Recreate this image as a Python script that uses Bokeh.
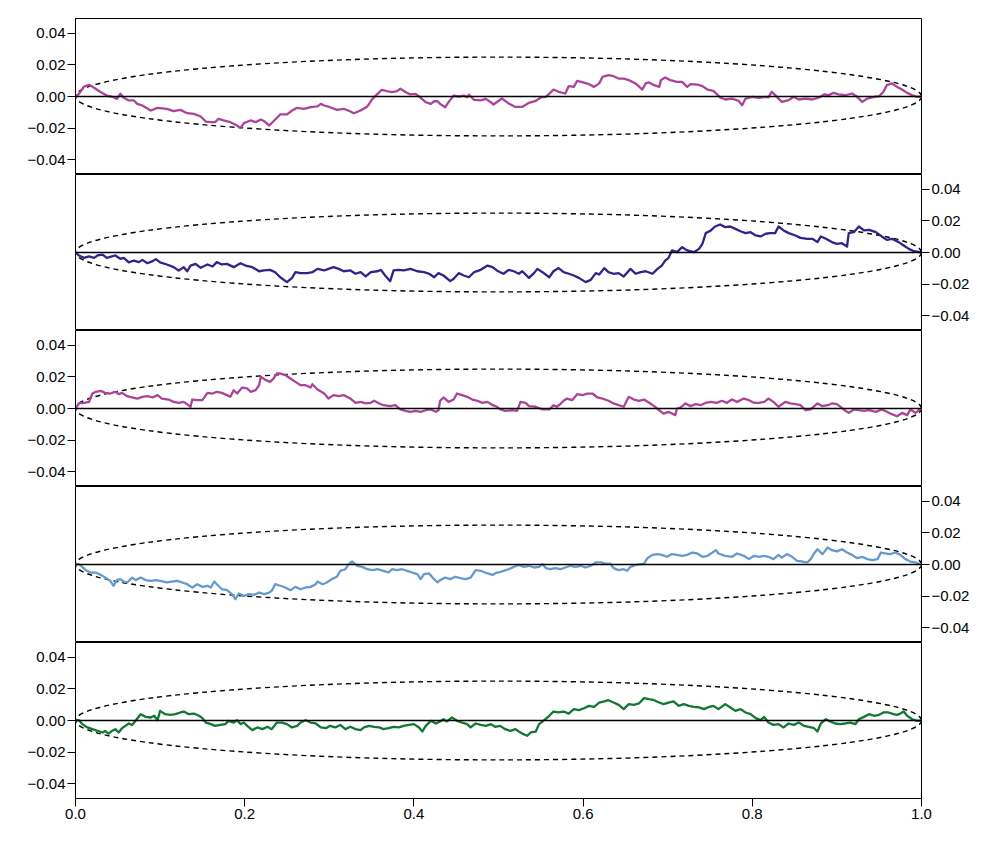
from bokeh.plotting import figure
from bokeh.layouts import column
from bokeh.models import Range1d, FixedTicker, CustomJSTickFormatter, Span
from bokeh.embed import file_html
from bokeh.resources import INLINE

# ---------------- data ----------------
t1 = [0, .004, .010, .016, .022, .030, .037, .045, .049, .053, .057, .063, .069, .073, .079, .089, .097, .108, .116, .124,
      .132, .140, .148, .154, .160, .165, .169, .175, .183, .191, .195, .199, .207, .213, .219, .223, .229, .234, .242, .250,
      .256, .262, .270, .278, .286, .290, .294, .301, .309, .317, .325, .329, .337, .345, .351, .357, .362, .368, .374, .380,
      .384, .390, .396, .402, .408, .414, .420, .424, .428, .431, .437, .441, .447, .453, .459, .463, .465, .471, .479, .485,
      .491, .494,
      .504, .512, .520, .528, .536, .544, .550, .556, .561, .565, .571, .579, .583, .589, .593, .599, .607, .613, .619, .623,
      .630, .636, .642, .648, .654, .662, .670, .674, .678, .684, .690, .692, .697, .703, .711, .717, .723, .727, .735, .741,
      .747, .754, .762, .768, .776, .784, .788, .792, .800, .808, .816, .819, .823, .829, .835, .843, .849, .855, .863, .871,
      .879, .885, .890, .896, .902, .910, .918, .924, .930, .936, .944, .950, .955, .959, .965, .971, .977, .983, .989, .995,
      1.0]
y1 = [0.0, 0.0017, 0.0063, 0.0074, 0.0055, 0.0027, 0.0006, -0.0004, -0.0015, 0.0017, -0.0008, -0.0025, -0.0025, -0.0047,
      -0.0057, -0.0089, -0.0072, -0.0078, -0.0093, -0.0085, -0.0106, -0.0110, -0.0127, -0.0159, -0.0163, -0.0163, -0.0142,
      -0.0152, -0.0163, -0.0184, -0.0199, -0.0169, -0.0152, -0.0163, -0.0146, -0.0157, -0.0184, -0.0157, -0.0114, -0.0114,
      -0.0089, -0.0072, -0.0078, -0.0068, -0.0063, -0.0047, -0.0057, -0.0068, -0.0085, -0.0078, -0.0095, -0.0106, -0.0089,
      -0.0063, -0.0015, 0.0017, 0.0042, 0.0034, 0.0028, 0.0034, 0.0049, 0.0028, 0.0013, 0.0017, -0.0008, -0.0036, -0.0047,
      -0.0030, -0.0030, -0.0047, -0.0068, -0.0036, 0.0006, 0.0000, 0.0006, -0.0004, 0.0011, -0.0021, -0.0025, -0.0015,
      -0.0036, -0.0051,
      -0.0013, -0.0044, -0.0066, -0.0066, -0.0040, -0.0028, -0.0006, -0.0002, 0.0023, 0.0044, 0.0030, 0.0019, 0.0066,
      0.0061, 0.0099, 0.0091, 0.0078, 0.0061, 0.0083, 0.0125, 0.0135, 0.0129, 0.0114, 0.0114, 0.0104, 0.0083, 0.0044,
      0.0083, 0.0089, 0.0072, 0.0061, 0.0104, 0.0121, 0.0104, 0.0093, 0.0093, 0.0061, 0.0078, 0.0076, 0.0066, 0.0044,
      0.0036, -0.0006, -0.0019, -0.0013, -0.0028, -0.0055, -0.0013, -0.0002, -0.0008, -0.0002, -0.0006, 0.0030, -0.0002,
      -0.0034, -0.0023, -0.0002, -0.0019, -0.0013, -0.0019, -0.0006, 0.0013, 0.0008, 0.0023, 0.0013, 0.0008, 0.0019,
      -0.0002, -0.0034, -0.0013, -0.0002, 0.0002, 0.0030, 0.0072, 0.0083, 0.0061, 0.0044, 0.0023, 0.0008, -0.0002, 0.0]

t2 = [0, .004, .010, .016, .022, .026, .032, .037, .043, .047, .053, .057, .063, .069, .075, .079, .085, .091, .095, .100,
      .108, .116, .122, .128, .132, .136, .142, .148, .156, .162, .167, .173, .179, .187, .195, .201, .209, .217, .223, .230,
      .236, .242, .250, .256, .260, .266, .274, .280, .286, .294, .299, .305, .311, .317, .325, .331, .337, .343, .349, .357,
      .361, .366, .372, .376, .382, .388, .396, .404, .412, .418, .424, .429, .435, .443, .447, .453, .459, .465, .471, .479,
      .487, .493, .498,
      .502, .506, .512, .518, .524, .528, .536, .542, .546, .552, .560, .565, .571, .577, .583, .589, .595, .603, .609, .615,
      .619, .625, .630, .636, .642, .648, .656, .662, .668, .674, .682, .688, .693, .697, .701, .705, .711, .717, .723, .731,
      .737, .741, .745, .751, .756, .762, .768, .774, .780, .786, .792, .798, .804, .810, .816, .821, .827, .831, .837, .843,
      .851, .857, .865, .871, .877, .881, .887, .894, .900, .906, .912, .914, .920, .926, .932, .938, .946, .953, .959, .965,
      .973, .979, .985, .991, 1.0]
y2 = [0.0, -0.0019, -0.0034, -0.0025, -0.0034, -0.0019, -0.0013, -0.0034, -0.0025, -0.0019, -0.0040, -0.0034, -0.0063,
      -0.0051, -0.0061, -0.0047, -0.0068, -0.0055, -0.0042, -0.0063, -0.0076, -0.0093, -0.0114, -0.0093, -0.0119, -0.0083,
      -0.0072, -0.0097, -0.0076, -0.0089, -0.0061, -0.0076, -0.0072, -0.0093, -0.0068, -0.0083, -0.0093, -0.0119, -0.0114,
      -0.0110, -0.0125, -0.0157, -0.0188, -0.0161, -0.0125, -0.0131, -0.0131, -0.0125, -0.0104, -0.0114, -0.0104, -0.0093,
      -0.0104, -0.0119, -0.0114, -0.0135, -0.0125, -0.0152, -0.0125, -0.0119, -0.0110, -0.0146, -0.0182, -0.0114, -0.0110,
      -0.0114, -0.0104, -0.0119, -0.0125, -0.0135, -0.0157, -0.0131, -0.0146, -0.0182, -0.0167, -0.0131, -0.0146, -0.0157,
      -0.0125, -0.0110, -0.0083, -0.0093, -0.0114,
      -0.0125, -0.0135, -0.0110, -0.0119, -0.0135, -0.0119, -0.0161, -0.0131, -0.0104, -0.0125, -0.0157, -0.0119, -0.0099,
      -0.0125, -0.0135, -0.0146, -0.0161, -0.0188, -0.0174, -0.0131, -0.0140, -0.0099, -0.0125, -0.0135, -0.0131, -0.0152,
      -0.0104, -0.0135, -0.0125, -0.0119, -0.0135, -0.0104, -0.0083, -0.0051, -0.0034, 0.0013, 0.0002, 0.0034, 0.0013,
      0.0002, 0.0023, 0.0055, 0.0123, 0.0140, 0.0165, 0.0178, 0.0161, 0.0165, 0.0150, 0.0135, 0.0123, 0.0129, 0.0108,
      0.0102, 0.0119, 0.0123, 0.0123, 0.0165, 0.0140, 0.0123, 0.0108, 0.0093, 0.0087, 0.0087, 0.0066, 0.0102, 0.0087,
      0.0066, 0.0055, 0.0059, 0.0038, 0.0123, 0.0129, 0.0165, 0.0140, 0.0144, 0.0129, 0.0102, 0.0080, 0.0087, 0.0066,
      0.0044, 0.0023, 0.0008, 0.0]

t3 = [0, .004, .010, .016, .020, .024, .030, .035, .041, .047, .051, .055, .061, .067, .073, .079, .085, .091, .097, .102,
      .110, .116, .122, .128, .136, .138, .144, .150, .156, .162, .167, .173, .179, .183, .187, .191, .197, .203, .207, .213,
      .217, .219, .225, .230, .234, .238, .242, .248, .254, .260, .266, .272, .278, .280, .286, .294, .299, .305, .311, .317,
      .325, .331, .337, .343, .349, .353, .359, .364, .372, .378, .384, .390, .396, .402, .408, .414, .420, .426, .429, .431,
      .435, .441, .447, .451, .457, .463, .469, .475, .481, .487, .493, .498,
      .502, .508, .516, .522, .526, .532, .536, .544, .552, .560, .565, .569, .573, .577, .581, .587, .593, .599, .605, .611,
      .617, .623, .630, .636, .642, .648, .654, .660, .666, .672, .678, .684, .690, .695, .701, .709, .711, .715, .721, .727,
      .733, .739, .745, .751, .758, .764, .770, .776, .782, .790, .796, .802, .808, .814, .819, .825, .831, .839, .845, .851,
      .857, .863, .869, .877, .883, .889, .894, .900, .908, .914, .920, .926, .932, .938, .946, .953, .959, .965, .971, .977,
      .983, .987, .993, .997, 1.0]
y3 = [0.0, 0.0032, 0.0036, 0.0042, 0.0095, 0.0106, 0.0112, 0.0099, 0.0095, 0.0106, 0.0091, 0.0099, 0.0078, 0.0070, 0.0063,
      0.0074, 0.0078, 0.0070, 0.0085, 0.0063, 0.0057, 0.0042, 0.0036, 0.0042, 0.0011, 0.0057, 0.0053, 0.0053, 0.0099, 0.0095,
      0.0106, 0.0099, 0.0085, 0.0074, 0.0116, 0.0095, 0.0133, 0.0127, 0.0106, 0.0116, 0.0148, 0.0201, 0.0180, 0.0169, 0.0190,
      0.0222, 0.0222, 0.0212, 0.0190, 0.0169, 0.0148, 0.0148, 0.0133, 0.0154, 0.0121, 0.0095, 0.0063, 0.0085, 0.0078, 0.0085,
      0.0063, 0.0036, 0.0042, 0.0032, 0.0036, 0.0049, 0.0032, 0.0021, 0.0015, 0.0021, -0.0006, -0.0015, -0.0021, -0.0015,
      -0.0021, -0.0011, -0.0006, -0.0021, -0.0011, 0.0049, 0.0070, 0.0042, 0.0057, 0.0095, 0.0085, 0.0074, 0.0057, 0.0049,
      0.0036, 0.0042, 0.0021, 0.0011,
      -0.0006, -0.0015, -0.0011, -0.0015, 0.0042, 0.0036, 0.0015, 0.0011, -0.0006, -0.0006, 0.0021, 0.0011, 0.0028, 0.0049,
      0.0063, 0.0053, 0.0091, 0.0085, 0.0095, 0.0095, 0.0070, 0.0063, 0.0049, 0.0032, 0.0021, 0.0011, 0.0074, 0.0057,
      0.0049, 0.0057, 0.0036, 0.0015, -0.0011, -0.0032, -0.0021, -0.0042, 0.0000, 0.0006, 0.0032, 0.0015, 0.0028, 0.0021,
      0.0036, 0.0042, 0.0036, 0.0049, 0.0036, 0.0057, 0.0042, 0.0063, 0.0053, 0.0036, 0.0036, 0.0042, 0.0063, 0.0042,
      0.0011, 0.0042, 0.0032, 0.0028, 0.0021, -0.0011, -0.0006, 0.0032, 0.0015, 0.0021, 0.0032, 0.0028, -0.0006, -0.0028,
      -0.0006, -0.0011, -0.0015, -0.0011, -0.0021, -0.0006, -0.0021, -0.0036, -0.0049, -0.0028, -0.0042, -0.0006, -0.0028,
      -0.0011, 0.0]

t4 = [0, .004, .008, .012, .018, .024, .030, .035, .041, .045, .049, .053, .057, .061, .067, .071, .077, .083, .089, .095,
      .100, .108, .114, .120, .126, .132, .138, .144, .150, .156, .160, .164, .167, .173, .179, .185, .189, .193, .199, .205,
      .211, .217, .223, .229, .232, .236, .242, .248, .254, .260, .266, .272, .278, .284, .286, .292, .297, .303, .309, .313,
      .319, .323, .327, .333, .339, .345, .351, .357, .364, .370, .374, .380, .386, .392, .398, .404, .408, .412, .418, .422,
      .428, .431, .437, .443, .449, .455, .461, .467, .473, .479, .487, .493, .498,
      .500, .506, .512, .518, .524, .530, .536, .542, .548, .552, .556, .561, .567, .573, .579, .585, .591, .597, .603, .609,
      .615, .621, .626, .632, .636, .642, .648, .652, .656, .662, .668, .672, .676, .682, .688, .693, .699, .705, .711, .717,
      .723, .729, .735, .741, .747, .753, .757, .760, .768, .776, .782, .790, .796, .802, .808, .814, .819, .825, .831, .835,
      .841, .847, .853, .859, .865, .869, .873, .877, .883, .889, .894, .900, .906, .912, .918, .924, .930, .936, .942, .948,
      .952, .957, .963, .969, .975, .981, .987, .993, 1.0]
y4 = [0.0, 0.0002, -0.0015, -0.0036, -0.0051, -0.0051, -0.0066, -0.0083, -0.0104, -0.0135, -0.0099, -0.0093, -0.0108,
      -0.0114, -0.0083, -0.0099, -0.0083, -0.0099, -0.0104, -0.0099, -0.0104, -0.0114, -0.0108, -0.0104, -0.0114, -0.0125,
      -0.0146, -0.0125, -0.0142, -0.0135, -0.0146, -0.0108, -0.0125, -0.0157, -0.0163, -0.0188, -0.0220, -0.0184, -0.0199,
      -0.0188, -0.0193, -0.0178, -0.0188, -0.0178, -0.0167, -0.0125, -0.0135, -0.0146, -0.0163, -0.0142, -0.0157, -0.0146,
      -0.0142, -0.0125, -0.0108, -0.0125, -0.0114, -0.0093, -0.0078, -0.0040, -0.0030, 0.0002, 0.0019, -0.0008, -0.0015,
      -0.0030, -0.0036, -0.0030, -0.0040, -0.0051, -0.0030, -0.0036, -0.0030, -0.0040, -0.0051, -0.0061, -0.0093, -0.0061,
      -0.0057, -0.0083, -0.0114, -0.0099, -0.0083, -0.0093, -0.0078, -0.0087, -0.0093, -0.0083, -0.0036, -0.0040, -0.0057,
      -0.0066, -0.0051,
      -0.0051, -0.0040, -0.0030, -0.0015, -0.0002, -0.0015, -0.0008, -0.0019, -0.0015, 0.0002, -0.0023, -0.0030, -0.0023,
      -0.0030, -0.0019, -0.0008, -0.0015, -0.0008, -0.0019, -0.0008, 0.0013, 0.0013, 0.0006, 0.0006, -0.0023, -0.0036,
      -0.0030, -0.0040, -0.0015, -0.0002, 0.0002, 0.0006, 0.0040, 0.0061, 0.0066, 0.0061, 0.0049, 0.0066, 0.0061, 0.0055,
      0.0061, 0.0076, 0.0070, 0.0049, 0.0055, 0.0076, 0.0091, 0.0070, 0.0055, 0.0049, 0.0070, 0.0055, 0.0034, 0.0055,
      0.0049, 0.0055, 0.0049, 0.0034, 0.0061, 0.0044, 0.0066, 0.0049, 0.0023, 0.0019, 0.0013, 0.0034, 0.0070, 0.0097,
      0.0066, 0.0108, 0.0091, 0.0083, 0.0097, 0.0076, 0.0061, 0.0040, 0.0049, 0.0034, 0.0028, 0.0034, 0.0076, 0.0070,
      0.0066, 0.0076, 0.0061, 0.0034, 0.0019, 0.0013, 0.0]

t5 = [0, .004, .008, .014, .020, .026, .032, .035, .039, .043, .047, .051, .055, .059, .063, .067, .071, .077, .083, .089,
      .093, .097, .100, .106, .112, .118, .124, .128, .134, .140, .146, .150, .154, .160, .165, .171, .177, .181, .187, .191,
      .195, .199, .203, .209, .215, .221, .227, .232, .238, .244, .250, .256, .262, .266, .272, .278, .284, .290, .296, .301,
      .307, .313, .319, .325, .331, .337, .341, .347, .353, .359, .364, .370, .376, .382, .388, .394, .400, .406, .410, .414,
      .420, .426, .431, .435, .439, .445, .451, .457, .463, .467, .473, .479, .485, .491, .496,
      .502, .508, .514, .520, .524, .528, .534, .538, .544, .548, .554, .560, .565, .571, .577, .583, .589, .595, .601, .607,
      .613, .619, .625, .630, .636, .642, .648, .654, .660, .666, .672, .678, .684, .690, .695, .701, .707, .713, .719, .725,
      .731, .737, .743, .749, .754, .760, .768, .774, .780, .786, .792, .798, .804, .810, .814, .819, .825, .831, .837, .843,
      .849, .855, .861, .867, .873, .877, .881, .887, .892, .898, .904, .910, .916, .922, .926, .932, .938, .944, .950, .955,
      .961, .967, .971, .975, .979, .983, .989, .995, 1.0]
y5 = [0.0, 0.0002, -0.0023, -0.0044, -0.0055, -0.0066, -0.0076, -0.0066, -0.0083, -0.0066, -0.0055, -0.0076, -0.0049,
      -0.0034, -0.0019, -0.0028, -0.0002, 0.0040, 0.0023, 0.0019, 0.0030, 0.0002, 0.0061, 0.0040, 0.0036, 0.0040, 0.0051,
      0.0057, 0.0040, 0.0044, 0.0030, 0.0015, -0.0013, -0.0023, -0.0034, -0.0028, -0.0023, -0.0002, -0.0013, 0.0002,
      -0.0023, -0.0013, -0.0034, -0.0061, -0.0044, -0.0055, -0.0040, -0.0055, -0.0013, -0.0013, -0.0023, -0.0044, -0.0034,
      -0.0013, 0.0002, -0.0013, -0.0019, -0.0044, -0.0049, -0.0034, -0.0044, -0.0028, -0.0055, -0.0040, -0.0055, -0.0061,
      -0.0044, -0.0034, -0.0040, -0.0044, -0.0055, -0.0049, -0.0040, -0.0044, -0.0034, -0.0028, -0.0023, -0.0044, -0.0070,
      -0.0034, -0.0002, -0.0019, -0.0006, 0.0008, -0.0006, 0.0019, -0.0002, -0.0013, -0.0023, -0.0044, -0.0019, -0.0028,
      -0.0034, -0.0023, -0.0040,
      -0.0034, -0.0055, -0.0066, -0.0055, -0.0070, -0.0083, -0.0097, -0.0076, -0.0070, -0.0023, 0.0002, 0.0030, 0.0057,
      0.0051, 0.0057, 0.0044, 0.0072, 0.0066, 0.0078, 0.0093, 0.0087, 0.0114, 0.0121, 0.0129, 0.0114, 0.0099, 0.0072,
      0.0104, 0.0099, 0.0108, 0.0142, 0.0135, 0.0129, 0.0114, 0.0104, 0.0114, 0.0121, 0.0093, 0.0104, 0.0093, 0.0087,
      0.0083, 0.0072, 0.0087, 0.0093, 0.0072, 0.0104, 0.0083, 0.0061, 0.0072, 0.0051, 0.0040, 0.0015, 0.0002, 0.0023,
      -0.0013, -0.0028, -0.0023, -0.0044, -0.0019, -0.0028, -0.0013, -0.0034, -0.0040, -0.0049, -0.0070, -0.0019, 0.0008,
      -0.0006, -0.0019, -0.0023, -0.0019, -0.0013, -0.0023, 0.0008, 0.0023, 0.0040, 0.0030, 0.0036, 0.0051, 0.0051, 0.0040,
      0.0036, 0.0044, 0.0057, 0.0030, 0.0008, -0.0002, 0.0]

colors = ["#AA4499", "#332288", "#AA4499", "#6699CC", "#117733"]
axis_sides = ["left", "right", "left", "right", "left"]
y_ticks = [-0.04, -0.02, 0.0, 0.02, 0.04]
x_ticks = [0.0, 0.2, 0.4, 0.6, 0.8, 1.0]
y_limit = 0.0495
band_center = 0.5
band_width = 1.0
band_height = 0.05

series = [(t1, y1), (t2, y2), (t3, y3), (t4, y4), (t5, y5)]

FONT = "Liberation Sans"
figs = []
for i, (tt, yy) in enumerate(series):
    last = (i == len(series) - 1)
    p = figure(frame_width=846, frame_height=156,
               x_range=Range1d(0, 1), y_range=Range1d(-y_limit, y_limit),
               output_backend="svg", toolbar_location=None,
               y_axis_location=axis_sides[i],
               x_axis_location="below" if last else None,
               min_border_left=75, min_border_right=60,
               min_border_top=18 if i == 0 else 0,
               min_border_bottom=36 if last else 0,
               background_fill_color="white", border_fill_color="white",
               outline_line_color="black", outline_line_width=1, outline_line_alpha=1.0)
    p.grid.visible = False

    p.ellipse(x=[band_center], y=[0.0], width=[band_width], height=[band_height],
              fill_color=None, line_color="black", line_width=1.4, line_dash="5 4")
    p.line(tt, yy, line_color=colors[i], line_width=2.3, line_join="round")
    p.add_layout(Span(location=0, dimension="width", line_color="black", line_width=1.5))

    yax = p.yaxis[0]
    yax.ticker = FixedTicker(ticks=y_ticks)
    yax.formatter = CustomJSTickFormatter(
        code="return (tick < -1e-9 ? '\u2212' : '') + Math.abs(tick).toFixed(2);")
    axes = [yax]
    if last:
        xax = p.xaxis[0]
        xax.ticker = FixedTicker(ticks=x_ticks)
        xax.formatter = CustomJSTickFormatter(code="return Math.abs(tick).toFixed(1);")
        axes.append(xax)
    for ax in axes:
        ax.axis_line_color = "black"
        ax.axis_line_width = 1
        ax.major_tick_line_color = "black"
        ax.major_tick_out = 8
        ax.major_tick_in = 0
        ax.minor_tick_out = 0
        ax.minor_tick_in = 0
        ax.major_label_standoff = 2
        ax.major_label_text_font = FONT
        ax.major_label_text_font_size = "15px"
        ax.major_label_text_color = "black"
    figs.append(p)

layout = column(*figs, spacing=0)
open("out.html", "w").write(file_html(layout, INLINE))
